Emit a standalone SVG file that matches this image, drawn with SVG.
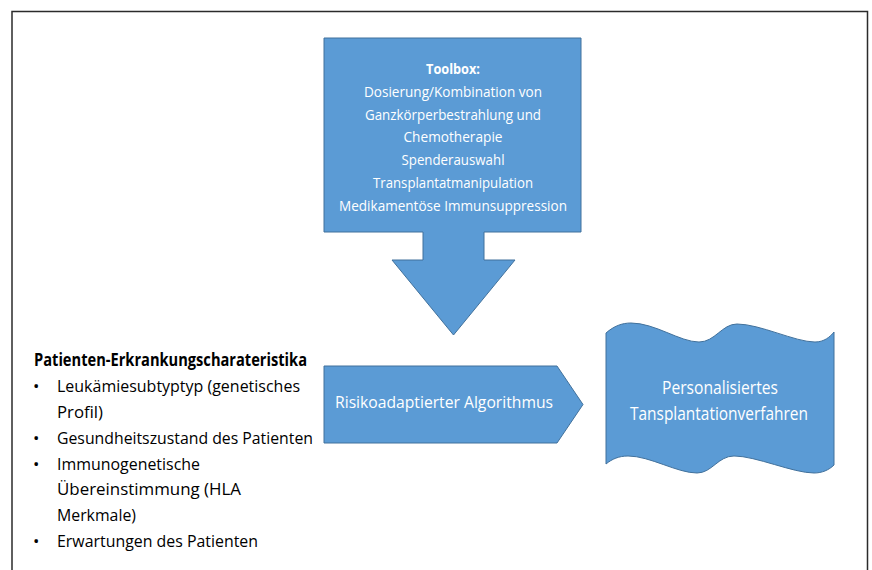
<svg xmlns="http://www.w3.org/2000/svg" width="872" height="570" viewBox="0 0 872 570">
<style>
.shape{fill:#5B9BD5;stroke:#41719C;stroke-width:1}
.wt{font-family:"Open Sans","Noto Sans","Liberation Sans",sans-serif;fill:#FFFFFF;text-anchor:middle}
.bt{font-family:"Open Sans","Noto Sans","Liberation Sans",sans-serif;fill:#000000}
</style>
<rect x="0" y="0" width="872" height="570" fill="#FFFFFF"/>
<path d="M12,600 V11.5 H867.5 V600" fill="none" stroke="#2b2b2b" stroke-width="1.5"/>
<g id="toolbox">
<path class="shape" d="M324,38 H581 V232 H484 V260 H515 L453.5,335 L392,260 H423 V232 H324 Z"/>
<text class="wt" x="453" y="74" font-size="15" font-weight="bold" textLength="54" lengthAdjust="spacingAndGlyphs">Toolbox:</text>
<text class="wt" x="453" y="96.8" font-size="15" textLength="178" lengthAdjust="spacingAndGlyphs">Dosierung/Kombination von</text>
<text class="wt" x="453" y="119.6" font-size="15" textLength="176" lengthAdjust="spacingAndGlyphs">Ganzkörperbestrahlung und</text>
<text class="wt" x="453" y="142.4" font-size="15" textLength="99" lengthAdjust="spacingAndGlyphs">Chemotherapie</text>
<text class="wt" x="453" y="165.2" font-size="15" textLength="103" lengthAdjust="spacingAndGlyphs">Spenderauswahl</text>
<text class="wt" x="453" y="188" font-size="15" textLength="160" lengthAdjust="spacingAndGlyphs">Transplantatmanipulation</text>
<text class="wt" x="453" y="210.8" font-size="15" textLength="228" lengthAdjust="spacingAndGlyphs">Medikamentöse Immunsuppression</text>
</g>
<g id="patient-characteristics">
<text class="bt" x="34" y="366" font-size="17" font-weight="bold" textLength="273" lengthAdjust="spacingAndGlyphs">Patienten-Erkrankungscharateristika</text>
<text class="bt" x="33" y="392" font-size="17">•</text>
<text class="bt" x="57" y="392" font-size="17" textLength="243" lengthAdjust="spacingAndGlyphs">Leukämiesubtyptyp (genetisches</text>
<text class="bt" x="57" y="417.5" font-size="17" textLength="46" lengthAdjust="spacingAndGlyphs">Profil)</text>
<text class="bt" x="33" y="443.5" font-size="17">•</text>
<text class="bt" x="57" y="443.5" font-size="17" textLength="256" lengthAdjust="spacingAndGlyphs">Gesundheitszustand des Patienten</text>
<text class="bt" x="33" y="469.5" font-size="17">•</text>
<text class="bt" x="57" y="469.5" font-size="17" textLength="143" lengthAdjust="spacingAndGlyphs">Immunogenetische</text>
<text class="bt" x="57" y="495" font-size="17" textLength="184" lengthAdjust="spacingAndGlyphs">Übereinstimmung (HLA</text>
<text class="bt" x="57" y="521" font-size="17" textLength="79" lengthAdjust="spacingAndGlyphs">Merkmale)</text>
<text class="bt" x="33" y="547" font-size="17">•</text>
<text class="bt" x="57" y="547" font-size="17" textLength="201" lengthAdjust="spacingAndGlyphs">Erwartungen des Patienten</text>
</g>
<g id="algorithm">
<path class="shape" d="M324,366 H557 L583,404.5 L557,443 H324 Z"/>
<text class="wt" x="444" y="408" font-size="17" textLength="218" lengthAdjust="spacingAndGlyphs">Risikoadaptierter Algorithmus</text>
</g>
<g id="result">
<path class="shape" d="M606,333 C614,326 622,323 631,323 C655,323 680,342 699,342 C715,342 722,324 737,324 C760,324 795,342 815,342 C824,342 830,337 834,332 L834,465 C829,470 822,473 814,473 C793,473 756,456 734,456 C718,456 712,473 697,473 C677,473 650,456 628,456 C619,456 612,459 606,464 Z"/>
<text class="wt" x="720" y="393.5" font-size="17.5" textLength="116" lengthAdjust="spacingAndGlyphs">Personalisiertes</text>
<text class="wt" x="719" y="419.5" font-size="17.5" textLength="178" lengthAdjust="spacingAndGlyphs">Tansplantationverfahren</text>
</g>
<g id="connectors"></g>
</svg>
